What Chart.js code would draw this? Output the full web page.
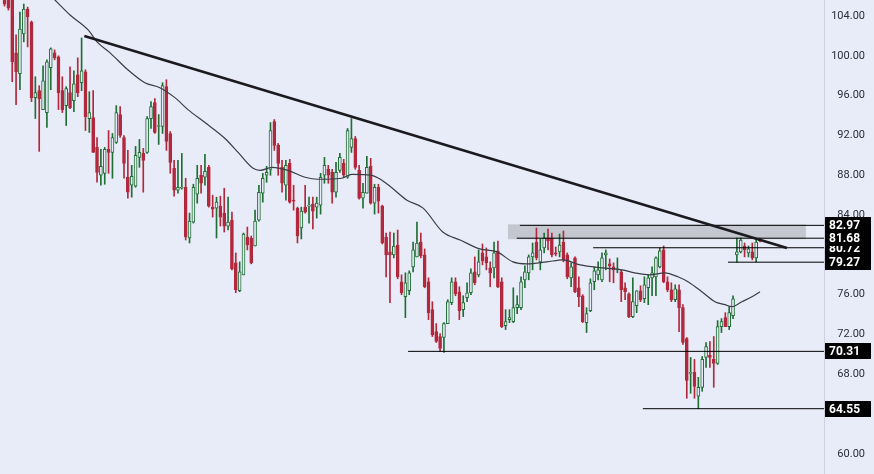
<!DOCTYPE html>
<html>
<head>
<meta charset="utf-8">
<script src="https://cdn.jsdelivr.net/npm/chart.js@4"></script>
<style>
html, body { margin: 0; padding: 0; background: #e8ecf8; }
#wrap { width: 874px; height: 474px; }
</style>
</head>
<body>
<div id="wrap"><canvas id="chart" width="874" height="474"></canvas></div>
<script>
// candle values, one entry per bar
const opens = [
    107.0, 107.0, 106.2, 100.3, 98.2, 102.2, 104.7, 103.4, 95.8, 96.5,
    94.6, 94.3, 98.8, 100.3, 99.9, 96.5, 95.0, 96.3, 95.5, 98.1,
    97.3, 98.4, 93.7, 93.8, 90.8, 88.0, 88.2, 90.6, 90.3, 91.3,
    94.1, 91.8, 87.8, 87.0, 86.9, 89.8, 90.2, 90.3, 93.7, 95.3,
    92.9, 92.9, 96.9, 92.2, 88.7, 86.5, 86.7, 86.8, 81.7, 83.3,
    86.1, 88.0, 87.8, 88.8, 84.8, 84.7, 84.9, 84.2, 82.9, 83.5,
    79.2, 76.4, 78.0, 81.8, 81.7, 80.9, 83.5, 86.2, 88.0, 88.6,
    93.4, 91.0, 88.8, 87.0, 89.2, 85.5, 84.7, 82.7, 84.8, 84.9,
    85.1, 84.8, 85.0, 88.0, 88.6, 88.3, 86.3, 88.5, 89.2, 87.8,
    90.8, 91.7, 88.5, 85.7, 86.2, 88.9, 85.2, 86.8, 84.9, 81.8,
    80.3, 80.0, 81.0, 77.3, 75.8, 76.4, 78.8, 79.8, 81.3, 80.0,
    77.3, 74.5, 72.3, 71.8, 71.7, 73.1, 75.2, 77.3, 76.3, 74.5,
    75.7, 76.2, 78.3, 78.0, 80.2, 79.8, 78.7, 78.7, 80.4, 77.3,
    72.9, 73.5, 73.3, 74.7, 74.7, 77.5, 78.2, 79.8, 81.3, 79.3,
    80.7, 81.7, 81.7, 80.2, 80.3, 81.3, 80.0, 77.7, 79.7, 76.7,
    75.9, 73.2, 74.4, 77.3, 78.0, 77.5, 80.0, 79.1, 78.8, 78.5,
    78.3, 76.7, 76.1, 73.8, 74.9, 76.4, 75.6, 76.7, 77.7, 77.8,
    78.8, 80.5, 77.3, 76.5, 75.5, 76.5, 74.7, 71.6, 68.1, 68.2,
    65.8, 66.7, 69.7, 69.9, 69.5, 69.1, 72.8, 73.7, 72.8, 73.9,
    80.0, 80.3, 80.9, 80.2, 80.3, 79.7, 81.6
];
const highs = [
    108.0, 108.0, 106.8, 102.1, 104.4, 105.2, 104.9, 103.5, 97.9, 97.0,
    99.0, 99.6, 100.8, 100.6, 100.0, 97.9, 96.9, 98.9, 98.5, 99.8,
    101.8, 98.6, 96.4, 96.5, 91.8, 90.6, 90.8, 92.5, 92.2, 95.0,
    94.9, 92.0, 90.5, 89.0, 90.9, 91.6, 90.7, 93.9, 95.4, 95.7,
    94.1, 97.3, 97.6, 92.4, 89.5, 89.5, 90.2, 87.7, 84.2, 87.1,
    89.0, 89.0, 90.1, 89.0, 86.0, 85.8, 85.9, 86.7, 85.8, 84.3,
    80.2, 79.3, 82.2, 82.8, 81.9, 84.5, 87.0, 88.2, 88.9, 93.3,
    93.6, 91.2, 89.5, 89.5, 89.6, 87.0, 84.8, 84.8, 87.0, 85.8,
    85.8, 85.8, 88.2, 89.8, 89.0, 88.6, 89.3, 90.2, 89.6, 92.7,
    93.7, 91.9, 89.0, 87.2, 89.9, 89.7, 87.1, 87.1, 85.0, 82.2,
    82.3, 82.2, 82.5, 78.0, 78.2, 78.4, 81.3, 83.3, 82.2, 80.6,
    77.7, 75.3, 73.1, 72.1, 73.2, 75.5, 77.7, 77.7, 76.8, 75.9,
    77.2, 78.6, 79.8, 80.5, 81.1, 80.7, 79.3, 81.3, 81.4, 77.7,
    74.5, 74.5, 76.7, 75.9, 77.8, 78.9, 80.0, 81.2, 82.7, 81.6,
    82.2, 82.6, 82.2, 80.8, 82.1, 82.4, 80.2, 79.2, 79.8, 77.8,
    76.0, 74.7, 77.6, 78.8, 79.3, 80.2, 80.5, 79.6, 79.2, 79.7,
    78.5, 77.2, 76.2, 77.7, 76.4, 76.9, 77.8, 78.0, 78.8, 79.8,
    80.7, 80.9, 77.8, 77.2, 77.0, 77.0, 75.0, 71.7, 69.7, 69.5,
    67.7, 69.8, 71.2, 71.3, 71.8, 73.4, 73.6, 74.2, 74.8, 75.9,
    81.7, 81.7, 81.2, 80.9, 81.2, 81.6, 81.7
];
const lows = [
    105.0, 104.6, 97.4, 95.1, 96.6, 101.4, 100.9, 95.4, 93.7, 90.4,
    94.6, 92.8, 96.6, 99.6, 94.6, 94.3, 93.0, 94.7, 94.4, 95.9,
    96.5, 92.5, 92.3, 90.3, 87.3, 87.0, 87.1, 88.2, 87.7, 91.2,
    91.8, 87.7, 85.7, 85.8, 86.8, 88.8, 86.3, 90.2, 92.7, 92.2,
    91.1, 92.2, 90.5, 88.2, 85.9, 86.2, 86.6, 81.5, 81.2, 83.2,
    85.2, 86.2, 87.0, 84.8, 83.8, 81.7, 82.9, 82.3, 82.5, 78.5,
    76.2, 76.3, 78.0, 80.5, 79.1, 80.9, 83.4, 85.3, 87.3, 88.0,
    90.5, 88.0, 86.3, 85.5, 85.2, 84.5, 81.2, 81.6, 84.2, 83.2,
    82.6, 83.7, 84.1, 87.2, 87.2, 85.2, 85.8, 88.3, 87.8, 87.7,
    90.3, 88.6, 85.6, 84.7, 86.2, 85.1, 84.1, 84.2, 81.1, 77.8,
    75.2, 79.7, 77.6, 76.0, 73.7, 76.0, 78.3, 79.8, 79.7, 76.7,
    73.5, 71.8, 71.2, 70.31, 70.2, 73.1, 75.0, 75.9, 73.5, 73.8,
    75.3, 76.0, 77.0, 77.8, 79.0, 78.5, 76.8, 77.7, 76.7, 72.7,
    72.5, 73.2, 73.2, 74.1, 74.5, 76.7, 77.5, 78.5, 79.5, 78.5,
    80.2, 80.5, 79.8, 79.9, 79.8, 79.3, 77.6, 76.8, 76.2, 74.8,
    73.2, 72.2, 74.3, 76.5, 77.5, 77.3, 78.5, 77.3, 77.2, 78.2,
    75.3, 75.5, 73.7, 73.7, 74.2, 75.3, 75.2, 75.0, 75.9, 75.9,
    78.7, 77.2, 76.3, 75.3, 75.3, 72.3, 71.0, 65.6, 66.1, 65.6,
    64.55, 66.3, 68.7, 68.7, 66.7, 69.0, 72.2, 72.8, 72.5, 73.6,
    79.27, 80.2, 79.8, 79.8, 79.5, 79.3, 81.3
];
const closes = [
    105.2, 104.8, 99.4, 98.4, 102.7, 104.7, 103.9, 95.8, 96.3, 95.7,
    97.5, 99.4, 100.7, 99.8, 96.3, 94.6, 96.7, 94.8, 97.2, 96.3,
    98.5, 93.9, 94.3, 90.3, 88.3, 88.9, 90.6, 90.3, 91.8, 94.3,
    92.0, 89.2, 86.3, 87.9, 90.0, 90.3, 89.5, 93.7, 94.9, 92.3,
    93.0, 97.0, 91.4, 89.3, 86.5, 86.8, 86.8, 81.8, 83.4, 86.8,
    87.7, 87.2, 88.4, 84.9, 84.6, 85.3, 83.8, 82.9, 83.3, 78.6,
    76.5, 78.3, 82.1, 81.0, 79.2, 83.4, 86.3, 87.7, 88.3, 92.5,
    91.0, 89.2, 87.2, 89.0, 85.3, 85.4, 81.9, 84.4, 84.3, 85.0,
    84.4, 85.2, 87.8, 89.0, 88.0, 86.3, 88.3, 89.8, 88.0, 92.5,
    91.7, 88.8, 85.7, 86.3, 88.8, 85.2, 86.8, 85.4, 81.2, 80.0,
    80.0, 80.9, 77.8, 76.2, 77.2, 78.2, 80.5, 81.2, 79.9, 76.8,
    74.2, 72.0, 71.3, 70.6, 73.1, 75.3, 77.3, 76.1, 74.4, 75.2,
    76.2, 78.2, 77.2, 79.3, 79.4, 79.2, 78.2, 80.2, 76.8, 72.8,
    73.3, 73.7, 74.7, 75.0, 77.3, 78.3, 79.8, 80.2, 79.7, 80.5,
    81.7, 81.4, 80.0, 80.1, 81.0, 79.5, 77.8, 78.8, 76.3, 75.8,
    73.3, 74.1, 77.2, 78.4, 78.5, 79.7, 80.2, 78.9, 78.5, 78.6,
    76.5, 76.3, 73.8, 75.3, 76.4, 75.5, 77.0, 77.7, 78.2, 79.7,
    80.4, 77.3, 76.5, 75.5, 76.6, 74.7, 71.2, 67.4, 68.2, 66.8,
    66.7, 69.5, 70.8, 69.7, 69.1, 72.8, 73.3, 72.8, 74.2, 75.6,
    80.3, 81.5, 80.5, 80.6, 79.7, 81.3, 81.4
];

// moving average line, sampled along the picture (bar index, price)
const maIndex = [11.8, 13.1, 17, 21.7, 24, 27.4, 32, 36.4, 40.3, 44.2, 47.6, 52, 57.2, 60.6, 64.5, 66.3, 69.4, 73.5, 78, 81.3,
    87.5, 90.1, 95.3, 97.9, 100, 104.4, 108.6, 113.7, 118.2, 123.3, 127.8, 131.9, 135.5, 140.7, 144.9, 149.3, 155, 160.2, 163.5, 167.4,
    171.3, 174.7, 177.3, 180.9, 184.3, 186.9, 188.7, 191.3, 193.9, 196];
const maValues = [106.1, 105.6, 104.1, 102.6, 101.4, 100.3, 98.6, 97.3, 96.8, 95.8, 94.6, 93.3, 91.7, 90.3, 88.7, 88.5, 88.8, 88.5, 87.8, 87.6,
    87.7, 88.1, 88.0, 87.5, 86.9, 85.5, 84.7, 82.3, 81.5, 80.6, 80.3, 79.3, 79.1, 79.3, 79.5, 79.0, 78.7, 78.5, 78.2, 78.0,
    78.2, 77.8, 77.3, 76.3, 75.3, 75.0, 74.8, 75.3, 75.8, 76.3];

// drawn levels and where each starts (bar index)
const levels = [82.97, 81.68, 80.72, 79.27, 70.31, 64.55];
const levelStarts = [133.7, 132.9, 152.7, 187.7, 104.7, 165.6];
const labelOrder = [2, 0, 1, 3, 4, 5];

// falling trendline: [index, price] at each end
const trendStart = [20.7, 102.0];
const trendEnd = [203, 80.7];

// shaded zone: from index to index, top price to bottom price
const zone = [130.6, 207.9, 83.07, 81.58];

const yTicks = [60, 64, 68, 72, 76, 80, 84, 88, 92, 96, 100, 104];

const X_MIN = -1.17, X_MAX = 212.6;
const Y_MIN = 57.99, Y_MAX = 105.61;
const BG = "#e8ecf8";
const UP = "#1f6e34";
const DOWN = "#b3283d";

const isUp = closes.map((c, i) => c >= opens[i]);

const levelSets = levels.map((v, n) => ({
    type: "line",
    data: [{ x: levelStarts[n], y: v }, { x: X_MAX, y: v }],
    borderColor: "#000",
    borderWidth: 1,
    pointRadius: 0,
    order: 0
}));

const bgPlugin = {
    id: "bg",
    beforeDraw(chart) {
        const ctx = chart.ctx;
        ctx.save();
        ctx.fillStyle = BG;
        ctx.fillRect(0, 0, chart.width, chart.height);
        ctx.restore();
    }
};

const zonePlugin = {
    id: "zone",
    beforeDatasetsDraw(chart) {
        const { ctx, scales: { x, y } } = chart;
        const x1 = x.getPixelForValue(zone[0]);
        const x2 = x.getPixelForValue(zone[1]);
        const y1 = y.getPixelForValue(zone[2]);
        const y2 = y.getPixelForValue(zone[3]);
        ctx.save();
        ctx.fillStyle = "#c5c7d0";
        ctx.fillRect(x1, y1, x2 - x1, y2 - y1);
        ctx.restore();
    }
};

const labelPlugin = {
    id: "priceLabels",
    afterDraw(chart) {
        const { ctx, chartArea, scales: { y } } = chart;
        ctx.save();
        ctx.font = "bold 12px Roboto";
        ctx.textBaseline = "middle";
        labelOrder.forEach(n => {
            const py = Math.round(y.getPixelForValue(levels[n]));
            ctx.fillStyle = "#000";
            ctx.fillRect(chartArea.right + 1, py - 8, 46, 16);
            ctx.fillStyle = "#fff";
            ctx.fillText(levels[n].toFixed(2), chartArea.right + 5, py + 1);
        });
        ctx.restore();
    }
};

new Chart(document.getElementById("chart"), {
    type: "bar",
    data: {
        datasets: [
            {
                type: "line",
                data: maIndex.map((x, i) => ({ x, y: maValues[i] })),
                borderColor: "#3b3d44",
                borderWidth: 1.2,
                pointRadius: 0,
                cubicInterpolationMode: "monotone",
                order: 1
            },
            {
                type: "line",
                data: [{ x: trendStart[0], y: trendStart[1] }, { x: trendEnd[0], y: trendEnd[1] }],
                borderColor: "#1b1b1f",
                borderWidth: 2.6,
                pointRadius: 0,
                order: 0
            },
            ...levelSets,
            {
                data: closes.map((c, i) => ({ x: i, y: [opens[i], c] })),
                backgroundColor: isUp.map(u => u ? BG : DOWN),
                borderColor: isUp.map(u => u ? UP : DOWN),
                borderWidth: 1,
                borderSkipped: false,
                barThickness: 3,
                minBarLength: 1,
                grouped: false,
                order: 2
            },
            {
                data: lows.map((l, i) => ({ x: i, y: [l, highs[i]] })),
                backgroundColor: isUp.map(u => u ? UP : DOWN),
                borderWidth: 0,
                barThickness: 1,
                grouped: false,
                order: 3
            }
        ]
    },
    options: {
        responsive: false,
        animation: false,
        events: [],
        layout: { padding: { left: 0, top: 0, bottom: 0, right: 9 } },
        plugins: { legend: { display: false }, tooltip: { enabled: false } },
        scales: {
            x: { type: "linear", display: false, min: X_MIN, max: X_MAX, offset: false },
            y: {
                position: "right",
                min: Y_MIN,
                max: Y_MAX,
                afterBuildTicks: s => { s.ticks = yTicks.map(v => ({ value: v })); },
                afterFit: s => { s.width = 41; s.paddingTop = 0; s.paddingBottom = 0; },
                grid: { drawOnChartArea: false, drawTicks: false },
                border: { display: true, color: "#cdd1dc" },
                ticks: {
                    crossAlign: "far",
                    padding: 4,
                    color: "#2a2d38",
                    font: { family: "Roboto", size: 11 },
                    callback: v => v.toFixed(2)
                }
            }
        }
    },
    plugins: [bgPlugin, zonePlugin, labelPlugin]
});
</script>
</body>
</html>
